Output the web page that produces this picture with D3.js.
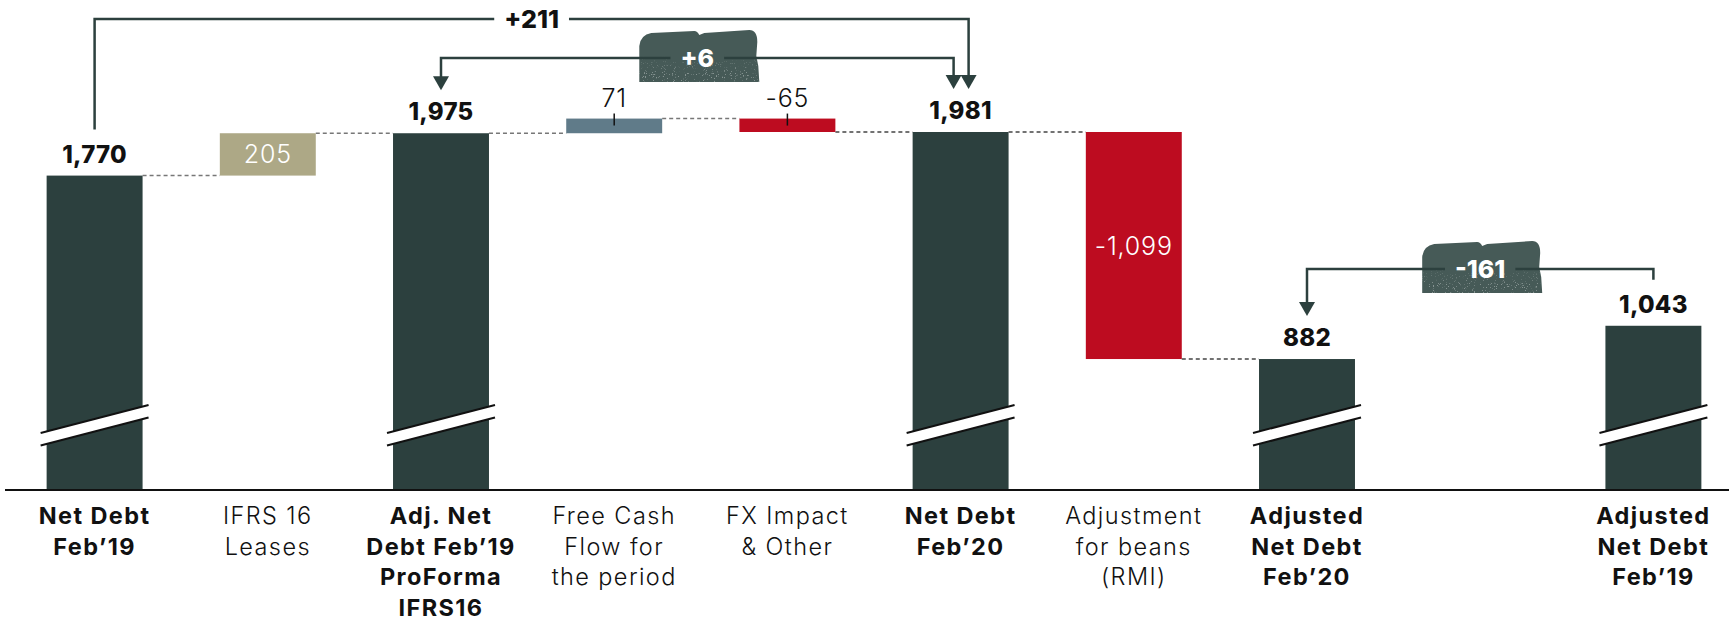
<html>
<head>
<script src="https://d3js.org/d3.v7.min.js"></script>
<style>
  body { margin: 0; background: #fff; }
  svg text { font-family: Inter, "Open Sans", sans-serif; }
</style>
</head>
<body>
<div id="chart"></div>
<script>
// categories (one empty slot between the two adjusted totals)
var categories = ["nd19", "ifrs16", "adj19", "fcf", "fx", "nd20", "rmi", "adjnd20", "gap", "adjnd19"];
var labelLines = [
  ["Net Debt", "Feb\u201919"],
  ["IFRS 16", "Leases"],
  ["Adj. Net", "Debt Feb\u201919", "ProForma", "IFRS16"],
  ["Free Cash", "Flow for", "the period"],
  ["FX Impact", "& Other"],
  ["Net Debt", "Feb\u201920"],
  ["Adjustment", "for beans", "(RMI)"],
  ["Adjusted", "Net Debt", "Feb\u201920"],
  [],
  ["Adjusted", "Net Debt", "Feb\u201919"]
];
var kinds = ["total", "delta", "total", "delta", "delta", "total", "delta", "total", "gap", "total"];
var values = [1770, 205, 1975, 71, -65, 1981, -1099, 882, 0, 1043];

// bridges between totals: from index, to index
var bridgeFrom = [0, 2, 9];
var bridgeTo = [5, 5, 7];

var width = 1729, height = 623;
var axisFloor = 248; // value sitting on the baseline (bars are broken)

var colors = { total: "#2c403e", ifrs16: "#ada886", fcf: "#607b89", neg: "#bd0c20" };
var ink = "#2c403e";
var badgeFill = "#465a57";

var fmt = d3.formatLocale({ decimal: ".", thousands: ",", grouping: [3], currency: ["", ""], minus: "-" }).format(",");

var svg = d3.select("#chart").append("svg")
  .attr("width", width)
  .attr("height", height);

// speckle texture for the badges
var defs = svg.append("defs");
var grain = defs.append("filter").attr("id", "grain")
  .attr("x", 0).attr("y", 0).attr("width", "100%").attr("height", "100%");
grain.append("feTurbulence")
  .attr("type", "fractalNoise").attr("baseFrequency", 0.9)
  .attr("numOctaves", 2).attr("seed", 7).attr("result", "n");
grain.append("feColorMatrix")
  .attr("in", "n").attr("type", "matrix")
  .attr("values", "0 0 0 0 1  0 0 0 0 1  0 0 0 0 1  12 0 0 0 -7.6");
var fade = defs.append("linearGradient").attr("id", "fade")
  .attr("x1", 0).attr("y1", 0).attr("x2", 0).attr("y2", 1);
fade.append("stop").attr("offset", 0.5).attr("stop-color", "#fff").attr("stop-opacity", 0);
fade.append("stop").attr("offset", 0.85).attr("stop-color", "#fff").attr("stop-opacity", 1);
defs.append("mask").attr("id", "fadeMask")
  .attr("maskContentUnits", "objectBoundingBox")
  .append("rect").attr("width", 1).attr("height", 1).attr("fill", "url(#fade)");

var x = d3.scaleBand()
  .domain(categories)
  .range([8, 1740])
  .paddingInner(0.446)
  .paddingOuter(0.223);

var y = d3.scaleLinear()
  .domain([axisFloor, 1981])
  .range([490, 132]);

// running waterfall
var bars = [];
var run = 0;
categories.forEach(function(c, i) {
  var k = kinds[i], v = values[i];
  if (k == "gap") { bars.push(null); return; }
  var lo, hi;
  if (k == "total") { lo = axisFloor; hi = v; run = v; }
  else { lo = run; hi = run + v; run = hi; }
  bars.push({ c: c, i: i, kind: k, v: v, a: Math.min(lo, hi), b: Math.max(lo, hi), end: run });
});

function barColor(d) {
  if (d.kind == "total") return colors.total;
  if (d.v < 0) return colors.neg;
  return colors[d.c] || colors.total;
}

// dashed connectors
bars.forEach(function(d, i) {
  var n = bars[i + 1];
  if (!d || !n) return;
  svg.append("line")
    .attr("x1", x(d.c) + x.bandwidth())
    .attr("x2", x(n.c))
    .attr("y1", y(d.end))
    .attr("y2", y(d.end))
    .attr("stroke", i >= 4 ? "#444" : "#777")
    .attr("stroke-width", 1.5)
    .attr("stroke-dasharray", "4,3");
});

var real = bars.filter(function(d) { return d; });

svg.selectAll("rect.bar")
  .data(real)
  .enter()
  .append("rect")
  .attr("class", "bar")
  .attr("x", function(d) { return x(d.c); })
  .attr("y", function(d) { return y(d.b); })
  .attr("width", x.bandwidth())
  .attr("height", function(d) { return y(d.a) - y(d.b); })
  .attr("fill", barColor);

// axis break marks on totals
var breakY = 425;
real.filter(function(d) { return d.kind == "total"; }).forEach(function(d) {
  var x0 = x(d.c) - 6, x1 = x(d.c) + x.bandwidth() + 6;
  svg.append("polygon")
    .attr("points", [[x0, breakY + 8], [x1, breakY - 20], [x1, breakY - 7.5], [x0, breakY + 20.5]].join(" "))
    .attr("fill", "#fff");
  [[8, -20], [20.5, -7.5]].forEach(function(p) {
    svg.append("line")
      .attr("x1", x0).attr("y1", breakY + p[0])
      .attr("x2", x1).attr("y2", breakY + p[1])
      .attr("stroke", "#111").attr("stroke-width", 2);
  });
});

// baseline
svg.append("line")
  .attr("x1", 5).attr("x2", width)
  .attr("y1", 490).attr("y2", 490)
  .attr("stroke", "#111").attr("stroke-width", 2);

// value labels
real.forEach(function(d) {
  var cx = x(d.c) + x.bandwidth() / 2;
  if (d.kind == "total") {
    svg.append("text")
      .attr("x", cx).attr("y", y(d.b) - 13)
      .attr("text-anchor", "middle")
      .attr("font-size", 24).attr("font-weight", 800).attr("fill", "#111")
      .attr("letter-spacing", 0.3)
      .text(fmt(d.v));
  } else if (y(d.a) - y(d.b) > 30) {
    svg.append("text")
      .attr("x", cx).attr("y", (y(d.a) + y(d.b)) / 2)
      .attr("dy", "0.36em")
      .attr("text-anchor", "middle")
      .attr("font-size", 25).attr("font-weight", 300).attr("fill", "#fff")
      .attr("letter-spacing", 0.8)
      .text(fmt(d.v));
  } else {
    svg.append("line")
      .attr("x1", cx).attr("x2", cx)
      .attr("y1", y(d.b) - 5).attr("y2", y(d.b) + 7)
      .attr("stroke", "#111").attr("stroke-width", 1.5);
    svg.append("text")
      .attr("x", cx).attr("y", y(d.b) - 12)
      .attr("text-anchor", "middle")
      .attr("font-size", 25).attr("font-weight", 300).attr("fill", "#111")
      .attr("letter-spacing", 0.8)
      .text(fmt(d.v));
  }
});

// category labels
categories.forEach(function(c, i) {
  var t = svg.append("text")
    .attr("x", x(c) + x.bandwidth() / 2)
    .attr("y", 524)
    .attr("text-anchor", "middle")
    .attr("font-size", 23.5)
    .attr("letter-spacing", 1.4)
    .attr("font-weight", kinds[i] == "total" ? 700 : 300)
    .attr("fill", "#111");
  labelLines[i].forEach(function(s, j) {
    t.append("tspan")
      .attr("x", x(c) + x.bandwidth() / 2)
      .attr("dy", j == 0 ? 0 : 30.5)
      .text(s);
  });
});

// bridge annotations
var bridgeLevel = [19, 58, 269];
var bridgeBadge = [false, true, true];
var fromArrow = [false, true, false];
var toShift = [8, -7, 0];

function badgePath(x0, y0) {
  var p = d3.path();
  p.moveTo(x0, y0 + 52);
  p.lineTo(x0, y0 + 16);
  p.quadraticCurveTo(x0 + 1, y0 + 5, x0 + 12, y0 + 3);
  p.lineTo(x0 + 55, y0 + 1);
  p.quadraticCurveTo(x0 + 58, y0 + 1, x0 + 60, y0 + 5);
  p.lineTo(x0 + 65, y0 + 3);
  p.lineTo(x0 + 110, y0);
  p.quadraticCurveTo(x0 + 118, y0 + 0, x0 + 118, y0 + 12);
  p.lineTo(x0 + 117, y0 + 26);
  p.lineTo(x0 + 119, y0 + 36);
  p.lineTo(x0 + 120, y0 + 52);
  p.closePath();
  return p.toString();
}

function arrow(cx, tip) {
  svg.append("polygon")
    .attr("points", [[cx - 8, tip - 14], [cx + 8, tip - 14], [cx, tip]].join(" "))
    .attr("fill", ink);
}

bridgeFrom.forEach(function(f, k) {
  var t = bridgeTo[k];
  var fx = x(categories[f]) + x.bandwidth() / 2;
  var tx = x(categories[t]) + x.bandwidth() / 2 + toShift[k];
  var ly = bridgeLevel[k];
  var diff = values[t] - values[f];
  var lbl = (diff > 0 ? "+" : "") + fmt(diff);
  var mid = (fx + tx) / 2;
  var tipT = y(values[t]) - 43;
  var fy = fromArrow[k] ? y(values[f]) - 43 : y(values[f]) - 46;

  if (bridgeBadge[k]) {
    var bd = badgePath(mid - 58, ly - 28);
    svg.append("path").attr("d", bd).attr("fill", badgeFill);
    var cid = "clip" + k;
    defs.append("clipPath").attr("id", cid).append("path").attr("d", bd);
    svg.append("g").attr("clip-path", "url(#" + cid + ")")
      .append("rect")
      .attr("x", mid - 58).attr("y", ly - 28)
      .attr("width", 120).attr("height", 52)
      .attr("fill", "#fff")
      .attr("filter", "url(#grain)")
      .attr("mask", "url(#fadeMask)")
      .attr("opacity", 0.35);
  }
  svg.append("path")
    .attr("d", "M" + fx + "," + (fromArrow[k] ? fy - 13 : fy) + "V" + ly + "H" + tx + "V" + (tipT - 13))
    .attr("fill", "none")
    .attr("stroke", ink)
    .attr("stroke-width", 2.5);
  if (fromArrow[k]) arrow(fx, fy);
  arrow(tx, tipT);

  var txt = svg.append("text")
    .attr("x", mid).attr("y", ly)
    .attr("dy", "0.36em")
    .attr("text-anchor", "middle")
    .attr("font-size", 25).attr("font-weight", 800)
    .attr("fill", bridgeBadge[k] ? "#fff" : "#111")
    .text(lbl);
  var w = txt.node().getComputedTextLength();
  svg.insert("rect", function() { return txt.node(); })
    .attr("x", mid - w / 2 - 10).attr("y", ly - 4)
    .attr("width", w + 20).attr("height", 8)
    .attr("fill", bridgeBadge[k] ? badgeFill : "#fff");
});
</script>
</body>
</html>
